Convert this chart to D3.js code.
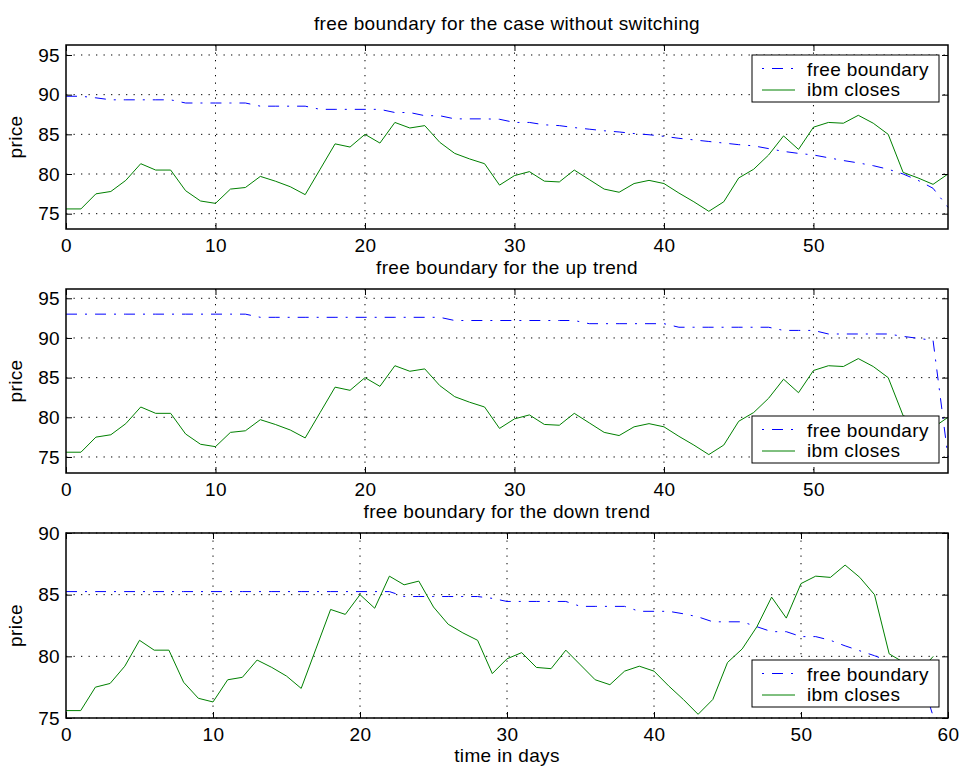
<!DOCTYPE html>
<meta charset="utf-8">
<script src="https://d3js.org/d3.v7.min.js"></script>
<body style="margin:0;background-color:#fff;">
<div id="my_dataviz"></div>
<script>

// data
var days = [0,1,2,3,4,5,6,7,8,9,10,11,12,13,14,15,16,17,18,19,20,21,22,23,24,25,26,27,28,29,
            30,31,32,33,34,35,36,37,38,39,40,41,42,43,44,45,46,47,48,49,50,51,52,53,54,55,56,57,58,59];

var ibmCloses = [75.6,75.6,77.5,77.8,79.2,81.3,80.5,80.5,77.9,76.6,76.3,78.1,78.3,79.7,79.1,78.4,77.4,80.6,83.8,83.4,
                 85.0,83.9,86.5,85.8,86.1,84.0,82.6,81.9,81.3,78.6,79.8,80.3,79.1,79.0,80.5,79.3,78.1,77.7,78.8,79.2,
                 78.8,77.6,76.5,75.3,76.5,79.5,80.6,82.4,84.8,83.1,85.9,86.5,86.4,87.4,86.4,85.0,80.2,79.5,78.7,80.0];

var boundaryNoSwitch = [89.8,89.8,89.6,89.35,89.35,89.35,89.35,89.35,88.95,88.95,88.95,88.95,88.95,88.55,88.55,88.55,88.55,88.15,88.15,88.15,
                        88.15,88.15,87.75,87.75,87.35,87.35,86.95,86.95,86.95,86.9,86.5,86.5,86.2,86.1,85.85,85.65,85.45,85.3,85.1,84.95,
                        84.75,84.5,84.3,84.1,83.9,83.7,83.55,83.2,82.85,82.6,82.4,82.05,81.7,81.4,81.05,80.6,80.0,79.2,78.2,75.8];

var boundaryUp = [93.0,93.0,93.0,93.0,93.0,93.0,93.0,93.0,93.0,93.0,93.0,93.0,93.0,92.6,92.6,92.6,92.6,92.6,92.6,92.6,
                  92.6,92.6,92.6,92.6,92.6,92.6,92.2,92.2,92.2,92.2,92.2,92.2,92.2,92.2,92.2,91.8,91.8,91.8,91.8,91.8,
                  91.8,91.35,91.35,91.35,91.35,91.35,91.35,91.35,90.95,90.95,90.95,90.5,90.5,90.5,90.5,90.5,90.2,89.95,89.7,75.0];

var boundaryDown = [85.25,85.25,85.25,85.25,85.25,85.25,85.25,85.25,85.25,85.25,85.25,85.25,85.25,85.25,85.25,85.25,85.25,85.25,85.25,85.25,
                    85.25,85.25,85.25,84.85,84.85,84.85,84.85,84.85,84.85,84.7,84.45,84.45,84.45,84.45,84.45,84.05,84.05,84.05,84.05,83.65,
                    83.65,83.65,83.45,83.2,82.8,82.8,82.8,82.4,82.0,82.0,81.6,81.6,81.3,80.85,80.45,80.05,79.6,79.3,78.9,75.1];

var priceTicksWide = [75,80,85,90,95];
var priceTicksNarrow = [75,80,85,90];
var dayTicksShort = [0,10,20,30,40,50];
var dayTicksLong = [0,10,20,30,40,50,60];

var titles = ["free boundary for the case without switching",
              "free boundary for the up trend",
              "free boundary for the down trend"];
var legendLabels = ["free boundary", "ibm closes"];
var xLabel = "time in days";
var yLabel = "price";

var W = 964, H = 769;
var left = 66, right = 948;
var font = "'Liberation Sans', Arial, Helvetica, sans-serif";
var blue = "#0000ff", green = "#008000";
var dashDot = "11,8,2,8";

var svg = d3.select("#my_dataviz")
  .append("svg")
  .attr("width", W)
  .attr("height", H)
  .style("font-family", font)
  .style("letter-spacing", "0.35px");

var panels = [
  {top: 45,  bottom: 229, xMax: 59, yDom: [73.07, 96.26], yTicks: priceTicksWide,   xTicks: dayTicksShort, fb: boundaryNoSwitch, legendTop: 55},
  {top: 289, bottom: 473, xMax: 59, yDom: [72.98, 96.17], yTicks: priceTicksWide,   xTicks: dayTicksShort, fb: boundaryUp,       legendTop: 416},
  {top: 533, bottom: 718, xMax: 60, yDom: [75, 90],       yTicks: priceTicksNarrow, xTicks: dayTicksLong,  fb: boundaryDown,     legendTop: 660}
];

panels.forEach(function(p, k) {
  var x = d3.scaleLinear().domain([0, p.xMax]).range([left, right]);
  var y = d3.scaleLinear().domain(p.yDom).range([p.bottom, p.top]);
  var g = svg.append("g");

  // dotted grid
  g.selectAll("line.hgrid").data(p.yTicks).enter().append("line")
    .attr("x1", left).attr("x2", right)
    .attr("y1", function(d) { return y(d); }).attr("y2", function(d) { return y(d); })
    .attr("stroke", "#000").attr("stroke-width", 1).attr("stroke-dasharray", "1.3,6.2");
  g.selectAll("line.vgrid").data(p.xTicks.filter(function(d) { return d > 0 && d < p.xMax; })).enter().append("line")
    .attr("y1", p.top).attr("y2", p.bottom)
    .attr("x1", function(d) { return x(d); }).attr("x2", function(d) { return x(d); })
    .attr("stroke", "#000").attr("stroke-width", 1).attr("stroke-dasharray", "1.3,6.2");

  // lines
  var line = d3.line()
    .x(function(d, i) { return x(days[i]); })
    .y(function(d) { return y(d); });

  g.append("path").datum(p.fb)
    .attr("d", line).attr("fill", "none")
    .attr("stroke", blue).attr("stroke-width", 1)
    .attr("stroke-dasharray", dashDot);

  g.append("path").datum(ibmCloses)
    .attr("d", line).attr("fill", "none")
    .attr("stroke", green).attr("stroke-width", 1);

  // axes, ticks pointing inward on all four sides
  var ax = g.append("g").attr("transform", "translate(" + left + ",0)")
    .call(d3.axisLeft(y).tickValues(p.yTicks).tickSizeInner(-6).tickSizeOuter(0).tickPadding(6));
  var axR = g.append("g").attr("transform", "translate(" + right + ",0)")
    .call(d3.axisRight(y).tickValues(p.yTicks).tickSizeInner(-6).tickSizeOuter(0).tickFormat(""));
  var axB = g.append("g").attr("transform", "translate(0," + p.bottom + ")")
    .call(d3.axisBottom(x).tickValues(p.xTicks).tickSizeInner(-6).tickSizeOuter(0).tickPadding(10));
  var axT = g.append("g").attr("transform", "translate(0," + p.top + ")")
    .call(d3.axisTop(x).tickValues(p.xTicks).tickSizeInner(-6).tickSizeOuter(0).tickFormat(""));

  [ax, axR, axB, axT].forEach(function(a) {
    a.select(".domain").remove();
    a.selectAll("line").attr("stroke", "#000").attr("stroke-width", 1);
    a.selectAll("text").style("font-size", "19px").style("font-family", font).attr("fill", "#000");
  });

  // box
  g.append("rect")
    .attr("x", left).attr("y", p.top)
    .attr("width", right - left).attr("height", p.bottom - p.top)
    .attr("fill", "none").attr("stroke", "#000").attr("stroke-width", 1.5);

  // title and y label
  g.append("text")
    .attr("x", (left + right) / 2).attr("y", p.top - 15)
    .attr("text-anchor", "middle").style("font-size", "19px")
    .text(titles[k]);

  g.append("text")
    .attr("transform", "translate(22," + (p.top + p.bottom) / 2 + ") rotate(-90)")
    .attr("text-anchor", "middle").style("font-size", "19px")
    .text(yLabel);

  // legend
  var lg = g.append("g").attr("transform", "translate(752," + p.legendTop + ")");
  lg.append("rect").attr("width", 187).attr("height", 47)
    .attr("fill", "#fff").attr("stroke", "#000").attr("stroke-width", 1);
  lg.append("line").attr("x1", 10).attr("x2", 43).attr("y1", 13.5).attr("y2", 13.5)
    .attr("stroke", blue).attr("stroke-width", 1)
    .attr("stroke-dasharray", dashDot).attr("stroke-dashoffset", 19);
  lg.append("line").attr("x1", 10).attr("x2", 43).attr("y1", 35).attr("y2", 35)
    .attr("stroke", green).attr("stroke-width", 1);
  lg.selectAll("text.lbl").data(legendLabels).enter().append("text")
    .attr("x", 55).attr("y", function(d, i) { return 20.7 + i * 20; })
    .style("font-size", "19px")
    .text(function(d) { return d; });
});

// x label under the last panel
svg.append("text")
  .attr("x", (left + right) / 2).attr("y", 762)
  .attr("text-anchor", "middle").style("font-size", "19px")
  .text(xLabel);

</script>
</body>
